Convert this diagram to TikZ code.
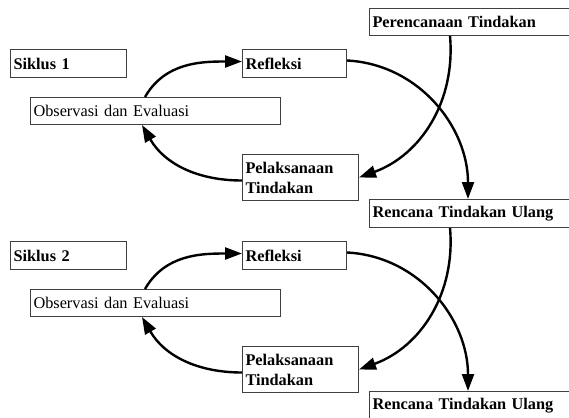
\documentclass[tikz,border=0pt]{standalone}
\usepackage{fontspec}
\setmainfont{Liberation Serif}
\usetikzlibrary{arrows.meta,calc}
\begin{document}
\begin{tikzpicture}[x=1pt,y=1pt,
  box/.style={draw=black!75, line width=1pt, anchor=north west, inner xsep=3pt, inner ysep=0pt,
    align=left, font=\fontsize{16.3}{20}\selectfont},
  bbox/.style={box, font=\fontsize{16.3}{20}\selectfont\bfseries},
  arr/.style={line width=2.4pt, -{Triangle[length=17pt,width=12pt]}}]
\useasboundingbox (0,0) rectangle (569,-417);
\clip (0,0) rectangle (569,-417);
\node[bbox, text width=244pt, minimum height=27pt] (plan) at (369,-8) {Perencanaan Tindakan};
\foreach \dy/\n/\src in {0/1/plan,192/2/ren1}{
  \node[bbox, text width=110pt, minimum height=28pt] (sik\n) at (10,{-49-\dy}) {Siklus \n};
  \node[bbox, text width=98pt, minimum height=28pt] (ref\n) at (242,{-49-\dy}) {Refleksi};
  \node[box, text width=244pt, minimum height=27pt] (obs\n) at (30,{-97-\dy}) {Observasi dan Evaluasi};
  \node[bbox, text width=110pt, minimum height=46pt] (pel\n) at (242,{-154-\dy}) {Pelaksanaan\\Tindakan};
  \node[bbox, text width=244pt, minimum height=28pt] (ren\n) at (369,{-199-\dy}) {Rencana Tindakan Ulang};
  \draw[arr] ([xshift=115pt]obs\n.north west) to[out=60,in=180] ([yshift=2pt]ref\n.west);
  \draw[arr] ([yshift=-3pt]pel\n.west) to[out=180,in=-60] ([xshift=112pt]obs\n.south west);
  \draw[arr] ([yshift=3pt]ref\n.east) to[out=-3,in=90] ([xshift=99pt]ren\n.north west);
  \draw[arr] ([xshift=81pt]\src.south west) to[out=-85,in=20] ([yshift=0pt]pel\n.east);
}
\end{tikzpicture}
\end{document}
